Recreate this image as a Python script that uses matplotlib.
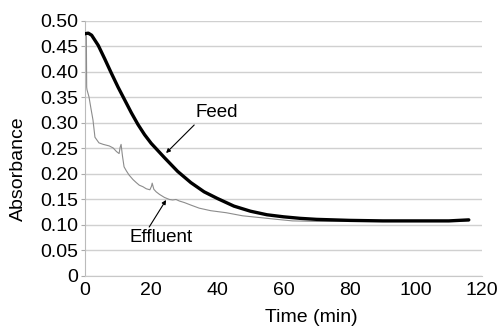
import matplotlib
matplotlib.use("Agg")
import matplotlib.pyplot as plt

# --- data ---
feed_t = [0, 1, 2, 4, 6, 8, 10, 12, 14, 16, 18, 20, 24, 28, 32, 36, 40, 45,
          50, 55, 60, 65, 70, 80, 90, 100, 110, 116]
feed_abs = [0.475, 0.476, 0.472, 0.452, 0.425, 0.397, 0.370, 0.345, 0.320,
            0.297, 0.277, 0.260, 0.232, 0.205, 0.183, 0.165, 0.152, 0.137,
            0.127, 0.120, 0.116, 0.113, 0.111, 0.109, 0.108, 0.108, 0.108, 0.110]

eff_t = [0, 0.4, 0.5, 0.6, 1.2, 1.8, 2.4, 3.0, 4.2, 5.5, 7.3, 8.5, 9.5,
         10.3, 10.6, 10.9, 11.3, 11.8, 12.5, 13.3, 14.5, 15.5, 16.4, 17.5,
         18.5, 19.6, 20.1, 20.3, 20.8, 21.5, 22.5, 24.0, 25.5, 26.5, 27.5,
         28.5, 30.0, 32.0, 34.5, 38.0, 42.7, 47.6, 53.6, 58.0, 62.7, 70, 80,
         90, 100, 110, 116]
eff_abs = [0.475, 0.470, 0.370, 0.365, 0.351, 0.328, 0.306, 0.272, 0.261,
           0.258, 0.255, 0.251, 0.244, 0.240, 0.252, 0.258, 0.236, 0.214,
           0.206, 0.198, 0.189, 0.183, 0.178, 0.175, 0.171, 0.169, 0.176,
           0.182, 0.170, 0.165, 0.160, 0.154, 0.150, 0.149, 0.150, 0.147,
           0.144, 0.139, 0.133, 0.128, 0.124, 0.118, 0.114, 0.111, 0.108,
           0.107, 0.107, 0.107, 0.107, 0.107, 0.108]

x_ticks = [0, 20, 40, 60, 80, 100, 120]
y_ticks = [0, 0.05, 0.10, 0.15, 0.20, 0.25, 0.30, 0.35, 0.40, 0.45, 0.50]
y_labels = ["0", "0.05", "0.10", "0.15", "0.20", "0.25", "0.30", "0.35",
            "0.40", "0.45", "0.50"]

plt.rcParams["font.family"] = ["Liberation Sans", "DejaVu Sans"]

fig = plt.figure(figsize=(5.04, 3.27), dpi=100)
ax = fig.add_axes([0.1687, 0.156, 0.7877, 0.78])

ax.plot(eff_t, eff_abs, color="#8c8c8c", lw=0.8, zorder=3)
ax.plot(feed_t, feed_abs, color="black", lw=2.4, zorder=4,
        solid_capstyle="round")

ax.set_xlim(0, 120)
ax.set_ylim(0, 0.5)
ax.set_xticks(x_ticks)
ax.set_yticks(y_ticks)
ax.set_yticklabels(y_labels)
ax.tick_params(axis="y", length=3, color="#aaaaaa", labelsize=14, pad=2)
ax.tick_params(axis="x", length=0, labelsize=14, pad=4)
ax.grid(axis="y", color="#d0d0d0", lw=1)
ax.set_axisbelow(True)
for side in ["top", "right"]:
    ax.spines[side].set_visible(False)
ax.spines["left"].set_color("#bbbbbb")
ax.spines["bottom"].set_color("#c8c8c8")

ax.set_xlabel("Time (min)", fontsize=14)
ax.set_ylabel("Absorbance", fontsize=14)
ax.xaxis.set_label_coords(0.57, -0.13)
ax.yaxis.set_label_coords(-0.146, 0.42)

arrow = dict(arrowstyle="-|>", color="black", lw=0.8, mutation_scale=6,
             shrinkA=0, shrinkB=0)
ax.annotate("", xy=(24.5, 0.241), xytext=(33, 0.296), arrowprops=arrow)
ax.text(39.7, 0.32, "Feed", fontsize=13.5, ha="center", va="center")
ax.annotate("", xy=(24.5, 0.149), xytext=(19.4, 0.096), arrowprops=arrow)
ax.text(23, 0.076, "Effluent", fontsize=13.5, ha="center", va="center")

fig.savefig("out.png", dpi=100)
